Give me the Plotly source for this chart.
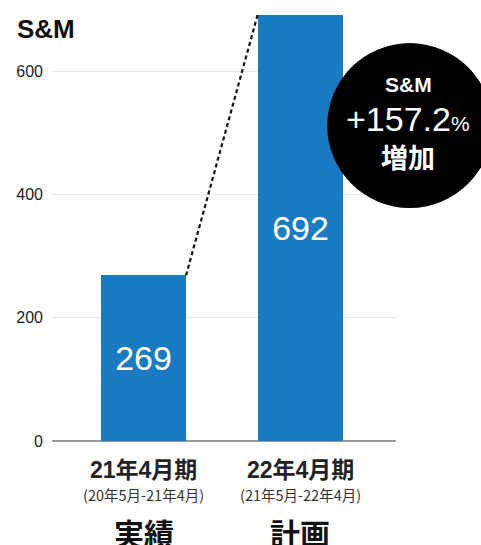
import plotly.graph_objects as go

# Sales & marketing spend: actual vs. plan
periods = ["21年4月期", "22年4月期"]
period_ranges = ["(20年5月-21年4月)", "(21年5月-22年4月)"]
period_kinds = ["実績", "計画"]
sm_values = [269, 692]
growth_pct = 157.2
y_ticks = [0, 200, 400, 600]

FONT = "Liberation Sans, Noto Sans CJK JP"
CJK = "Noto Sans CJK JP"
BAR_COLOR = "#1a7ac2"
BAR_WIDTH = 0.543

fig = go.Figure()
fig.add_trace(go.Bar(
    x=list(range(len(periods))),
    y=sm_values,
    width=BAR_WIDTH,
    marker=dict(color=BAR_COLOR, line=dict(width=0)),
    text=[str(v) for v in sm_values],
    textposition="inside",
    insidetextanchor="middle",
    textangle=0,
    textfont=dict(family=FONT, size=34, color="white"),
    cliponaxis=False,
    hoverinfo="skip",
))

# dashed connector from the top of the actual bar to the top of the plan bar
fig.add_shape(
    type="line", xref="x", yref="y",
    x0=0 + BAR_WIDTH / 2, y0=sm_values[0],
    x1=1 - BAR_WIDTH / 2, y1=sm_values[1],
    line=dict(color="#111111", width=2.2, dash="4px,3px"),
    layer="above",
)

# growth badge
fig.add_shape(
    type="circle", xref="paper", yref="paper",
    x0=0.8, x1=1.28, y0=0.547, y1=0.934,
    fillcolor="black", line=dict(width=0), layer="above",
)

annotations = []
badge_x = 1.035
annotations.append(dict(
    x=badge_x, y=0.838, xref="paper", yref="paper", showarrow=False,
    text="<b>S&M</b>", font=dict(family=FONT, size=21, color="white"),
    xanchor="center", yanchor="middle",
))
annotations.append(dict(
    x=badge_x, y=0.755, xref="paper", yref="paper", showarrow=False,
    text=f"+{growth_pct}<span style='font-size:21px'>%</span>",
    font=dict(family=FONT, size=34, color="white"),
    xanchor="center", yanchor="middle",
))
annotations.append(dict(
    x=badge_x, y=0.668, xref="paper", yref="paper", showarrow=False,
    text="<b>増加</b>", font=dict(family=CJK, size=27, color="white"),
    xanchor="center", yanchor="middle",
))

# category labels under each bar
for i, (p, r, k) in enumerate(zip(periods, period_ranges, period_kinds)):
    annotations.append(dict(
        x=i, y=0, xref="x", yref="paper", yshift=-29, showarrow=False,
        text=f"<b>{p}</b>", font=dict(family=FONT, size=23, color="#222222"),
        xanchor="center", yanchor="middle",
    ))
    annotations.append(dict(
        x=i, y=0, xref="x", yref="paper", yshift=-53, showarrow=False,
        text=r, font=dict(family=CJK, size=14.5, color="#333333"),
        xanchor="center", yanchor="middle",
    ))
    annotations.append(dict(
        x=i, y=0, xref="x", yref="paper", yshift=-91, showarrow=False,
        text=f"<b>{k}</b>", font=dict(family=CJK, size=30, color="#111111"),
        xanchor="center", yanchor="middle",
    ))

fig.update_layout(
    width=481, height=545,
    margin=dict(l=52, r=85, t=15, b=104),
    paper_bgcolor="white", plot_bgcolor="white",
    showlegend=False,
    bargap=0,
    title=dict(
        text="<b>S&M</b>", xref="container", yref="container",
        x=17 / 481, y=1 - 29 / 545, xanchor="left", yanchor="middle",
        font=dict(family=FONT, size=26, color="#111111"),
    ),
    xaxis=dict(
        range=[-0.585, 1.613], showticklabels=False, showgrid=False,
        zeroline=False, showline=False, ticks="", fixedrange=True,
    ),
    yaxis=dict(
        range=[0, sm_values[1]], tickvals=y_ticks,
        showgrid=True, gridcolor="#e8e8e8", gridwidth=1,
        zeroline=True, zerolinecolor="#9a9a9a", zerolinewidth=1.5,
        showline=False, ticks="", ticklabelstandoff=8,
        tickfont=dict(family=FONT, size=16, color="#222222"),
        fixedrange=True,
    ),
    annotations=annotations,
)

fig.write_html("out.html")
